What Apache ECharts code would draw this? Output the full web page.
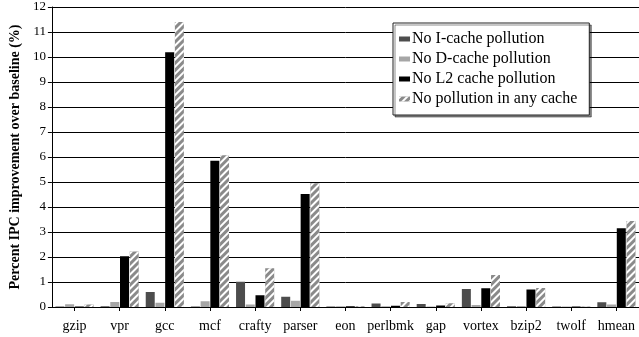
<!DOCTYPE html>
<html>
<head>
<meta charset="utf-8">
<script src="https://cdn.jsdelivr.net/npm/echarts@6/dist/echarts.min.js"></script>
<style>
  html, body { margin: 0; padding: 0; background: #fff; }
  #chart { width: 639px; height: 337px; }
</style>
</head>
<body>
<div id="chart"></div>
<script>
// Benchmarks (SPEC CPU2000 integer) plus harmonic mean
const categories = ['gzip', 'vpr', 'gcc', 'mcf', 'crafty', 'parser', 'eon', 'perlbmk', 'gap', 'vortex', 'bzip2', 'twolf', 'hmean'];

// Percent IPC improvement over baseline
const noICache  = [0.02, 0.03, 0.60, 0.02, 1.01, 0.41, 0.02, 0.14, 0.12, 0.72, 0.03, 0.02, 0.19];
const noDCache  = [0.11, 0.20, 0.17, 0.23, 0.10, 0.25, 0.03, 0.03, 0.02, 0.08, 0.04, 0.02, 0.10];
const noL2Cache = [0.02, 2.03, 10.19, 5.85, 0.47, 4.52, 0.03, 0.05, 0.06, 0.75, 0.70, 0.02, 3.15];
const noAnyCache = [0.10, 2.22, 11.40, 6.07, 1.55, 4.95, 0.03, 0.20, 0.15, 1.28, 0.76, 0.02, 3.44];

const yTicks = { min: 0, max: 12, interval: 1 };

const serif = '"Liberation Serif", "Times New Roman", serif';

const chart = echarts.init(document.getElementById('chart'), null, { renderer: 'canvas' });

function barSeries(name, data, color, decal) {
  const s = {
    name: name,
    type: 'bar',
    data: data,
    barWidth: 9,
    barGap: '8%',
    itemStyle: { color: color },
    emphasis: { disabled: true },
    animation: false
  };
  if (decal) s.itemStyle.decal = decal;
  return s;
}

const stripes = {
  symbol: 'rect',
  symbolSize: 1,
  color: '#ffffff',
  dashArrayX: [1, 0],
  dashArrayY: [2, 3],
  rotation: -Math.PI / 4
};

chart.setOption({
  backgroundColor: '#ffffff',
  animation: false,
  grid: { left: 44, right: -4, top: 7, bottom: 30, containLabel: false },
  legend: {
    orient: 'vertical',
    left: 393,
    top: 23,
    padding: [8, 12, 8, 6],
    itemWidth: 11,
    itemHeight: 5,
    itemGap: 4,
    icon: 'rect',
    backgroundColor: '#ffffff',
    borderColor: '#222',
    borderWidth: 1,
    shadowColor: 'rgba(0,0,0,0.45)',
    shadowOffsetX: 2,
    shadowOffsetY: 2,
    shadowBlur: 0,
    textStyle: { fontFamily: serif, fontSize: 16, color: '#000', padding: [0, 0, 0, -3] },
    data: ['No I-cache pollution', 'No D-cache pollution', 'No L2 cache pollution', 'No pollution in any cache']
  },
  xAxis: {
    type: 'category',
    data: categories,
    axisLine: { show: true, lineStyle: { color: '#000', width: 1 } },
    axisTick: { show: true, alignWithLabel: true, length: 4, lineStyle: { color: '#000' } },
    axisLabel: { fontFamily: serif, fontSize: 14, color: '#000', margin: 12, interval: 0 }
  },
  yAxis: {
    type: 'value',
    min: yTicks.min,
    max: yTicks.max,
    interval: yTicks.interval,
    name: 'Percent IPC improvement over baseline (%)',
    nameLocation: 'middle',
    nameGap: 26,
    nameTextStyle: { fontFamily: serif, fontSize: 14, fontWeight: 'bold', color: '#000' },
    axisLine: { show: true, lineStyle: { color: '#000', width: 1 } },
    axisTick: { show: true, length: 4, lineStyle: { color: '#000' } },
    axisLabel: { fontFamily: serif, fontSize: 13, color: '#000', margin: 6 },
    splitLine: { show: true, lineStyle: { color: '#000', width: 1 } }
  },
  series: [
    barSeries('No I-cache pollution', noICache, '#4d4d4d'),
    barSeries('No D-cache pollution', noDCache, '#a6a6a6'),
    barSeries('No L2 cache pollution', noL2Cache, '#000000'),
    barSeries('No pollution in any cache', noAnyCache, '#8a8a8a', stripes)
  ]
});
</script>
</body>
</html>
